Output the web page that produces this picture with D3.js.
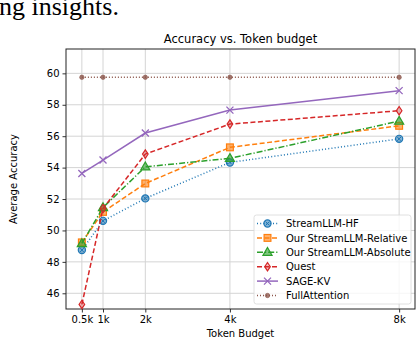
<!DOCTYPE html>
<html>
<head>
<meta charset="utf-8">
<script src="https://cdn.jsdelivr.net/npm/d3@7"></script>
<style>
  body { margin: 0; background: #fff; }
  svg text { font-family: "DejaVu Sans", sans-serif; fill: #000; }
</style>
</head>
<body>
<div id="plot"></div>
<script>
// token budgets (k) and their tick labels
var budgets = [0.5, 1, 2, 4, 8];
var budgetLabels = ['0.5k', '1k', '2k', '4k', '8k'];
var yTicks = [46, 48, 50, 52, 54, 56, 58, 60];

var streamHF       = [48.75, 50.61, 52.04, 54.33, 55.83];
var ourRelative    = [49.24, 51.18, 52.99, 55.29, 56.66];
var ourAbsolute    = [49.17, 51.46, 54.05, 54.59, 56.96];
var quest          = [45.29, 51.40, 54.86, 56.77, 57.62];
var sageKV         = [53.63, 54.48, 56.20, 57.66, 58.90];
var fullAttention  = [59.75, 59.75, 59.75, 59.75, 59.75];

var seriesNames = ['StreamLLM-HF', 'Our StreamLLM-Relative', 'Our StreamLLM-Absolute', 'Quest', 'SAGE-KV', 'FullAttention'];

var W = 418, H = 342;
var margin = {left: 66, right: 3, top: 49, bottom: 33};

var svg = d3.select('#plot').append('svg')
  .attr('width', W).attr('height', H);

// piece of the paper text above the figure
svg.append('text')
  .attr('x', -1).attr('y', 15)
  .style('font-family', '"Liberation Serif", "Times New Roman", serif')
  .style('font-size', '26px')
  .text('ng insights.');

var x = d3.scaleLinear().domain([0.125, 8.375]).range([margin.left, W - margin.right]);
var y = d3.scaleLinear().domain([45, 61.55]).range([H - margin.bottom, margin.top]);

// grid
var grid = svg.append('g');
budgets.forEach(function(b) {
  grid.append('line').attr('x1', x(b)).attr('x2', x(b))
    .attr('y1', margin.top).attr('y2', H - margin.bottom)
    .attr('stroke', '#d4d4d4').attr('stroke-width', 1);
});
yTicks.forEach(function(v) {
  grid.append('line').attr('x1', margin.left).attr('x2', W - margin.right)
    .attr('y1', y(v)).attr('y2', y(v))
    .attr('stroke', '#d4d4d4').attr('stroke-width', 1);
});

// axes
var xAxis = d3.axisBottom(x).tickValues(budgets)
  .tickFormat(function(d, i) { return budgetLabels[i]; })
  .tickSizeInner(3.5).tickSizeOuter(0).tickPadding(3);
var yAxis = d3.axisLeft(y).tickValues(yTicks)
  .tickSizeInner(3.5).tickSizeOuter(0).tickPadding(3);

var gx = svg.append('g').attr('transform', 'translate(0,' + (H - margin.bottom) + ')').call(xAxis);
var gy = svg.append('g').attr('transform', 'translate(' + margin.left + ',0)').call(yAxis);
[gx, gy].forEach(function(g) {
  g.select('.domain').remove();
  g.selectAll('text').style('font-size', '10px').style('font-family', '"DejaVu Sans", sans-serif');
  g.selectAll('line').attr('stroke', '#000').attr('stroke-width', 0.8);
});

// frame
svg.append('rect')
  .attr('x', margin.left).attr('y', margin.top)
  .attr('width', W - margin.right - margin.left)
  .attr('height', H - margin.bottom - margin.top)
  .attr('fill', 'none').attr('stroke', '#222').attr('stroke-width', 1);

// titles
svg.append('text').attr('x', (margin.left + W - margin.right) / 2).attr('y', 43)
  .attr('text-anchor', 'middle').style('font-size', '11.5px')
  .text('Accuracy vs. Token budget');
svg.append('text').attr('x', (margin.left + W - margin.right) / 2).attr('y', 337)
  .attr('text-anchor', 'middle').style('font-size', '10px')
  .text('Token Budget');
svg.append('text')
  .attr('transform', 'translate(17,' + ((margin.top + H - margin.bottom) / 2) + ') rotate(-90)')
  .attr('text-anchor', 'middle').style('font-size', '10px')
  .text('Average Accuracy');

var styles = [
  {color: '#1f77b4', dash: '1,2.2', marker: 'circlex'},
  {color: '#ff7f0e', dash: '5,2.5', marker: 'square'},
  {color: '#2ca02c', dash: '6,2,1.2,2', marker: 'triangle'},
  {color: '#d62728', dash: '5,2.5', marker: 'diamond'},
  {color: '#9467bd', dash: null, marker: 'x'},
  {color: '#8c564b', dash: '1,2', marker: 'dot'}
];
var allSeries = [streamHF, ourRelative, ourAbsolute, quest, sageKV, fullAttention];

function drawMarker(g, type, color, cx, cy) {
  if (type === 'circlex') {
    g.append('circle').attr('cx', cx).attr('cy', cy).attr('r', 3.6)
      .attr('fill', color).attr('fill-opacity', 0.55).attr('stroke', color).attr('stroke-width', 1.2);
    g.append('path').attr('d', 'M' + (cx - 2) + ',' + (cy - 2) + 'L' + (cx + 2) + ',' + (cy + 2) +
        'M' + (cx - 2) + ',' + (cy + 2) + 'L' + (cx + 2) + ',' + (cy - 2))
      .attr('stroke', color).attr('stroke-width', 1);
  } else if (type === 'square') {
    g.append('rect').attr('x', cx - 3.4).attr('y', cy - 3.4).attr('width', 6.8).attr('height', 6.8)
      .attr('fill', color).attr('fill-opacity', 0.6).attr('stroke', color).attr('stroke-width', 1.2);
  } else if (type === 'triangle') {
    g.append('path').attr('d', d3.symbol(d3.symbolTriangle, 36)())
      .attr('transform', 'translate(' + cx + ',' + (cy + 0.5) + ')')
      .attr('fill', color).attr('fill-opacity', 0.6).attr('stroke', color).attr('stroke-width', 1.2);
  } else if (type === 'diamond') {
    g.append('path').attr('d', 'M' + cx + ',' + (cy - 4.2) + 'L' + (cx + 2.8) + ',' + cy +
        'L' + cx + ',' + (cy + 4.2) + 'L' + (cx - 2.8) + ',' + cy + 'Z')
      .attr('fill', color).attr('fill-opacity', 0.3).attr('stroke', color).attr('stroke-width', 1.2);
  } else if (type === 'x') {
    g.append('path').attr('d', 'M' + (cx - 3.5) + ',' + (cy - 3.5) + 'L' + (cx + 3.5) + ',' + (cy + 3.5) +
        'M' + (cx - 3.5) + ',' + (cy + 3.5) + 'L' + (cx + 3.5) + ',' + (cy - 3.5))
      .attr('stroke', color).attr('stroke-width', 1.3);
  } else if (type === 'dot') {
    g.append('circle').attr('cx', cx).attr('cy', cy).attr('r', 2.2)
      .attr('fill', color).attr('fill-opacity', 0.8).attr('stroke', color).attr('stroke-width', 0.6);
  }
}

var line = d3.line()
  .x(function(d, i) { return x(budgets[i]); })
  .y(function(d) { return y(d); });

allSeries.forEach(function(s, k) {
  var st = styles[k];
  var g = svg.append('g');
  g.append('path').datum(s).attr('d', line)
    .attr('fill', 'none').attr('stroke', st.color).attr('stroke-width', 1.5)
    .attr('stroke-dasharray', st.dash);
  s.forEach(function(v, i) { drawMarker(g, st.marker, st.color, x(budgets[i]), y(v)); });
});

// legend
var lg = svg.append('g');
lg.append('rect').attr('x', 254).attr('y', 215).attr('width', 157).attr('height', 89)
  .attr('rx', 2.5).attr('fill', '#fff').attr('fill-opacity', 0.8)
  .attr('stroke', '#d8d8d8').attr('stroke-width', 0.8);
seriesNames.forEach(function(name, k) {
  var st = styles[k];
  var ly = 223.5 + k * 14.4;
  lg.append('line').attr('x1', 257).attr('x2', 278).attr('y1', ly).attr('y2', ly)
    .attr('stroke', st.color).attr('stroke-width', 1.5).attr('stroke-dasharray', st.dash);
  drawMarker(lg, st.marker, st.color, 267.5, ly);
  lg.append('text').attr('x', 286).attr('y', ly + 3.6).style('font-size', '10px').text(name);
});
</script>
</body>
</html>
